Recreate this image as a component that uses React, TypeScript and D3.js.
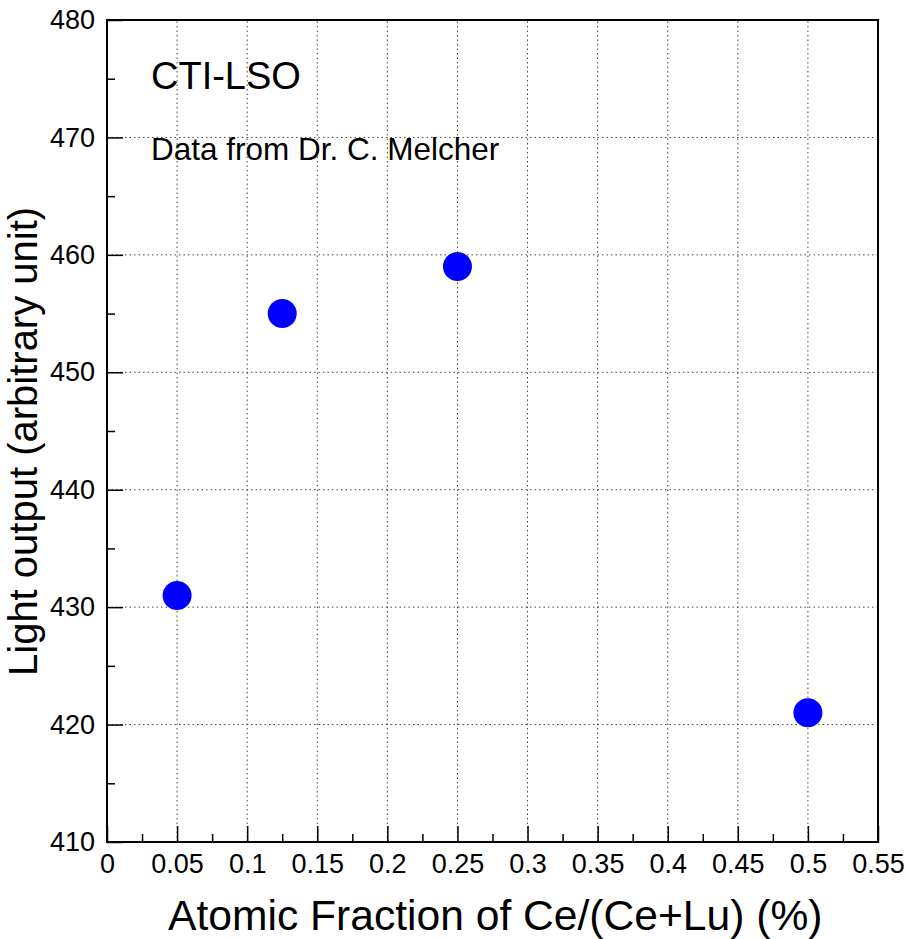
import * as d3 from "d3";
import { useEffect, useRef } from "react";

// measured points
const fractions = [0.05, 0.125, 0.25, 0.5];
const lightOutput = [431, 455, 459, 421];

const xMajor = [0, 0.05, 0.1, 0.15, 0.2, 0.25, 0.3, 0.35, 0.4, 0.45, 0.5, 0.55];
const xMinor = [0.025, 0.075, 0.125, 0.175, 0.225, 0.275, 0.325, 0.375, 0.425, 0.475, 0.525];
const yMajor = [410, 420, 430, 440, 450, 460, 470, 480];
const yMinor = [415, 425, 435, 445, 455, 465, 475];
const xGrid = [0.05, 0.1, 0.15, 0.2, 0.25, 0.3, 0.35, 0.4, 0.45, 0.5];
const yGrid = [420, 430, 440, 450, 460, 470];

const xTitle = "Atomic Fraction of Ce/(Ce+Lu) (%)";
const yTitle = "Light output (arbitrary unit)";
const label1 = "CTI-LSO";
const label2 = "Data from Dr. C. Melcher";

const W = 910;
const H = 939;
const margin = { left: 107, right: 32, top: 20, bottom: 97 };
const font = "'Liberation Sans', Arial, Helvetica, sans-serif";

const fmt = (d) => String(+(+d).toFixed(3));

const draw = (svgEl) => {
    const svg = d3.select(svgEl);
    svg.selectAll("*").remove();

    const x = d3.scaleLinear().domain([0, 0.55]).range([margin.left, W - margin.right]);
    const y = d3.scaleLinear().domain([410, 480]).range([H - margin.bottom, margin.top]);

    // grid
    const grid = svg.append("g").attr("stroke", "#444").attr("stroke-width", 1).attr("stroke-dasharray", "1.5,3");
    grid.selectAll(".gx").data(xGrid).join("line")
        .attr("x1", d => x(d)).attr("x2", d => x(d))
        .attr("y1", y(410)).attr("y2", y(480));
    grid.selectAll(".gy").data(yGrid).join("line")
        .attr("x1", x(0)).attr("x2", x(0.55))
        .attr("y1", d => y(d)).attr("y2", d => y(d));

    // x axis
    const xa = svg.append("g")
        .attr("transform", `translate(0,${y(410)})`)
        .call(d3.axisBottom(x).tickValues(xMajor).tickSize(-16).tickPadding(12).tickFormat(fmt));
    svg.append("g")
        .attr("transform", `translate(0,${y(410)})`)
        .call(d3.axisBottom(x).tickValues(xMinor).tickSize(-8).tickFormat(() => ""));

    // y axis
    const ya = svg.append("g")
        .attr("transform", `translate(${x(0)},0)`)
        .call(d3.axisLeft(y).tickValues(yMajor).tickSize(-16).tickPadding(12).tickFormat(fmt));
    svg.append("g")
        .attr("transform", `translate(${x(0)},0)`)
        .call(d3.axisLeft(y).tickValues(yMinor).tickSize(-8).tickFormat(() => ""));

    svg.selectAll(".domain").remove();
    svg.selectAll(".tick line").attr("stroke", "#000").attr("stroke-width", 1.5);
    [xa, ya].forEach(a => a.selectAll("text")
        .attr("fill", "#000")
        .style("font-family", font)
        .style("font-size", "27px"));

    // frame
    svg.append("rect")
        .attr("x", x(0)).attr("y", y(480))
        .attr("width", x(0.55) - x(0)).attr("height", y(410) - y(480))
        .attr("fill", "none").attr("stroke", "#000").attr("stroke-width", 2);

    // points
    svg.append("g").selectAll("circle")
        .data(fractions.map((f, i) => ({ f, v: lightOutput[i] })))
        .join("circle")
        .attr("cx", d => x(d.f))
        .attr("cy", d => y(d.v))
        .attr("r", 14.5)
        .attr("fill", "#0000ff");

    // texts
    svg.append("text")
        .attr("x", 151).attr("y", 89)
        .style("font-family", font).style("font-size", "38px")
        .text(label1);
    svg.append("text")
        .attr("x", 151).attr("y", 160)
        .style("font-family", font).style("font-size", "31.5px")
        .text(label2);

    svg.append("text")
        .attr("x", 168).attr("y", 930)
        .style("font-family", font).style("font-size", "42.6px")
        .text(xTitle);
    svg.append("text")
        .attr("transform", "translate(37,676) rotate(-90)")
        .style("font-family", font).style("font-size", "40px")
        .text(yTitle);
};

export default function App() {
    const ref = useRef(null);

    useEffect(() => {
        draw(ref.current);
    }, []);

    return (
        <svg ref={ref} width={W} height={H}
            style={{ position: "absolute", left: 0, top: 0, background: "#fff" }} />
    );
}
